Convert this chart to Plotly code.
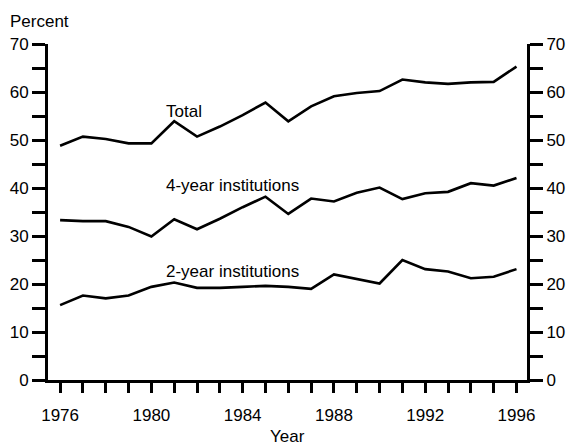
import plotly.graph_objects as go

years = list(range(1976, 1997))
total = [48.8, 50.7, 50.2, 49.3, 49.3, 53.9, 50.7, 52.8, 55.2, 57.8, 53.9,
         57.0, 59.1, 59.8, 60.2, 62.6, 62.0, 61.7, 62.0, 62.1, 65.3]
four_year = [33.3, 33.1, 33.1, 31.9, 29.9, 33.5, 31.4, 33.6, 36.0, 38.2, 34.6,
             37.8, 37.2, 39.0, 40.1, 37.7, 38.9, 39.2, 41.0, 40.5, 42.1]
two_year = [15.6, 17.6, 17.0, 17.6, 19.4, 20.3, 19.2, 19.2, 19.4, 19.6, 19.4,
            19.0, 22.0, 21.0, 20.1, 25.0, 23.1, 22.6, 21.2, 21.5, 23.1]
series_names = ["Total", "4-year institutions", "2-year institutions"]
label_y = [56.0, 40.6, 22.7]
label_x = 1980.55

y_tickvals = list(range(0, 75, 5))
y_ticktext = [str(v) if v % 10 == 0 else "" for v in y_tickvals]
x_tickvals = years
x_ticktext = [str(y) if (y - 1976) % 4 == 0 else "" for y in years]

FONT = "Liberation Sans, Arial, Helvetica, sans-serif"

fig = go.Figure()
for name, vals in zip(series_names, [total, four_year, two_year]):
    fig.add_trace(go.Scatter(x=years, y=vals, mode="lines", name=name,
                             line=dict(color="black", width=2.6),
                             showlegend=False))
# invisible trace so the right axis is drawn
fig.add_trace(go.Scatter(x=years[:1], y=total[:1], yaxis="y2", mode="markers",
                         marker=dict(opacity=0), showlegend=False, hoverinfo="skip"))

for name, ly in zip(series_names, label_y):
    fig.add_annotation(x=label_x, y=ly, xref="x", yref="y", text=name,
                       showarrow=False, xanchor="left", yanchor="middle",
                       font=dict(family=FONT, size=17, color="black"))

fig.add_annotation(x=-0.0835, y=1.068, xref="paper", yref="paper", text="Percent",
                   showarrow=False, xanchor="left", yanchor="middle",
                   font=dict(family=FONT, size=17, color="black"))
fig.add_annotation(x=0.5, y=-0.168, xref="paper", yref="paper", text="Year",
                   showarrow=False, xanchor="center", yanchor="middle",
                   font=dict(family=FONT, size=17, color="black"))

axis_common = dict(showgrid=False, zeroline=False, showline=True,
                   linecolor="black", linewidth=3, ticks="outside",
                   tickcolor="black", tickwidth=2.5, ticklen=13,
                   automargin=False,
                   tickfont=dict(family=FONT, size=17, color="black"))

fig.update_layout(
    width=571, height=448,
    margin=dict(l=48, r=44, t=44, b=68, autoexpand=False),
    paper_bgcolor="white", plot_bgcolor="white",
    xaxis=dict(range=[1975.47, 1996.46], tickmode="array", tickvals=x_tickvals,
               ticktext=x_ticktext, **{**axis_common, "ticklen": 10},
               ticklabelstandoff=8),
    yaxis=dict(range=[0, 70], tickmode="array", tickvals=y_tickvals,
               ticktext=y_ticktext, **axis_common),
    yaxis2=dict(range=[0, 70], tickmode="array", tickvals=y_tickvals,
                ticktext=y_ticktext, overlaying="y", side="right",
                anchor="x", **axis_common),
)

fig.write_html("out.html", config={"displayModeBar": False},
               post_script="document.body.style.margin='0';document.body.style.overflow='hidden';")
